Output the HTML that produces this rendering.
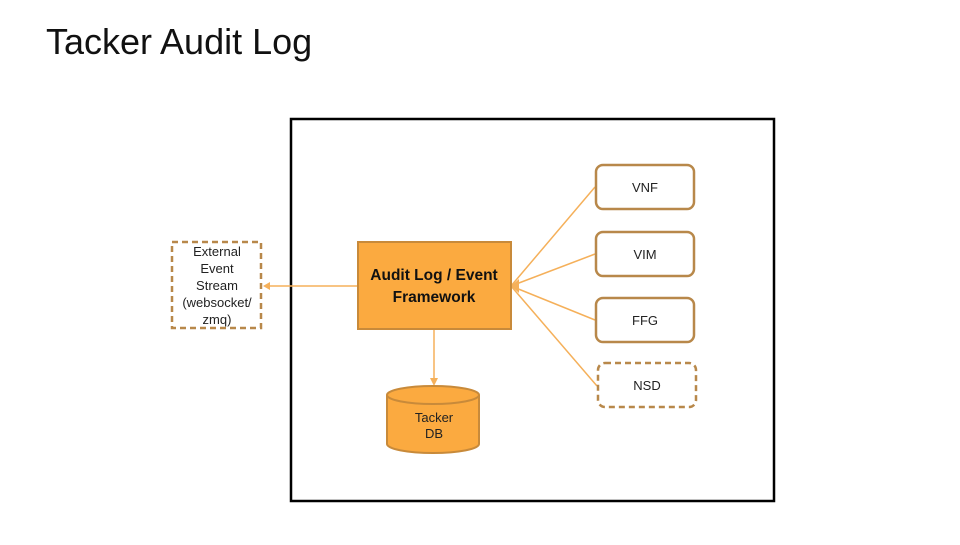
<!DOCTYPE html>
<html><head><meta charset="utf-8"><style>
body{margin:0;background:#fff;width:960px;height:540px;overflow:hidden;font-family:"Liberation Sans",sans-serif}
</style></head><body>
<svg width="960" height="540" xmlns="http://www.w3.org/2000/svg" font-family="Liberation Sans, sans-serif">
<text x="46" y="54" font-size="36" fill="#111">Tacker Audit Log</text>
<rect x="291" y="119" width="483" height="382" fill="none" stroke="#000" stroke-width="2.5"/>
<g stroke="#f5b05a" stroke-width="1.5" fill="none">
<line x1="511" y1="286" x2="595" y2="187"/>
<line x1="511" y1="286" x2="595" y2="254"/>
<line x1="511" y1="286" x2="595" y2="320"/>
<line x1="511" y1="286" x2="597" y2="386"/>
<line x1="357" y1="286" x2="268" y2="286"/>
<line x1="434" y1="329" x2="434" y2="380"/>
</g>
<polygon points="263,286 270,282 270,290" fill="#f5b05a"/>
<polygon points="434,386 430,378 438,378" fill="#f5b05a"/>
<polygon points="511,286 519,279 519,293" fill="#f5b05a"/>
<rect x="172" y="242" width="89" height="86" fill="#fff" stroke="#b8884a" stroke-width="2.5" stroke-dasharray="6,4"/>
<g font-size="13" fill="#222" text-anchor="middle">
<text x="217" y="256">External</text><text x="217" y="273">Event</text><text x="217" y="290">Stream</text><text x="217" y="307">(websocket/</text><text x="217" y="324">zmq)</text>
</g>
<rect x="358" y="242" width="153" height="87" fill="#fbaa40" stroke="#c88a3a" stroke-width="2"/>
<text x="434" y="280" font-size="15.5" font-weight="bold" text-anchor="middle" fill="#111">Audit Log / Event</text>
<text x="434" y="302" font-size="15.5" font-weight="bold" text-anchor="middle" fill="#111">Framework</text>
<g fill="#fff" stroke="#b8884a" stroke-width="2.5">
<rect x="596" y="165" width="98" height="44" rx="7"/>
<rect x="596" y="232" width="98" height="44" rx="7"/>
<rect x="596" y="298" width="98" height="44" rx="7"/>
<rect x="598" y="363" width="98" height="44" rx="7" stroke-dasharray="6,4"/>
</g>
<g font-size="13" fill="#222" text-anchor="middle">
<text x="645" y="192">VNF</text><text x="645" y="259">VIM</text><text x="645" y="325">FFG</text><text x="647" y="390">NSD</text>
</g>
<path d="M387,395 L387,444 A46,9 0 0 0 479,444 L479,395" fill="#fbaa40" stroke="#c88a3a" stroke-width="2"/>
<ellipse cx="433" cy="395" rx="46" ry="9" fill="#fbaa40" stroke="#c88a3a" stroke-width="2"/>
<text x="434" y="422" font-size="13" text-anchor="middle" fill="#222">Tacker</text>
<text x="434" y="438" font-size="13" text-anchor="middle" fill="#222">DB</text>
</svg>
</body></html>
